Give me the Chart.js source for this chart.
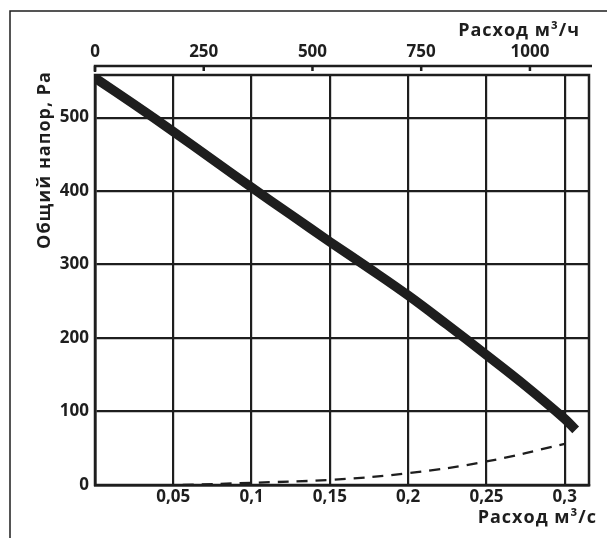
<!DOCTYPE html>
<html>
<head>
<meta charset="utf-8">
<script src="https://cdn.jsdelivr.net/npm/chart.js@4.4.1/dist/chart.umd.min.js"></script>
<style>
  html, body { margin: 0; padding: 0; background: #fff; }
  #wrap { width: 607px; height: 538px; position: relative; }
</style>
</head>
<body>
<div id="wrap"><canvas id="c"></canvas></div>
<script>
// ---- data ----
const flowFan   = [0, 0.025, 0.05, 0.075, 0.1, 0.125, 0.15, 0.175, 0.2, 0.225, 0.25, 0.275, 0.3, 0.307];
const pressFan  = [554, 518, 481, 443, 405, 368, 331, 295, 258, 218, 177, 135, 90, 75];
const flowSys   = [0.056, 0.1, 0.15, 0.2, 0.25, 0.3];
const pressSys  = [0, 3, 7, 16, 32, 56];
const xMax = 0.3155;          // m3/s
const yMax = 558;             // Pa
const topFactor = 3600;       // m3/s -> m3/h
const titleTop = 'Расход м³/ч';
const titleBottom = 'Расход м³/с';
const titleLeft = 'Общий напор, Ра';

const INK = '#1e1e1e';
const FONT = "'Open Sans', 'DejaVu Sans', sans-serif";

const toPts = (xs, ys) => xs.map((x, i) => ({ x: x, y: ys[i] }));

const decor = {
  id: 'decor',
  beforeDraw(chart) {
    const ctx = chart.ctx;
    ctx.save();
    ctx.strokeStyle = INK;
    ctx.lineWidth = 1.5;
    ctx.beginPath();
    ctx.moveTo(10, 538);
    ctx.lineTo(10, 11);
    ctx.lineTo(607, 11);
    ctx.stroke();
    ctx.restore();
  },
  beforeDatasetsDraw(chart) {
    const ctx = chart.ctx, a = chart.chartArea;
    ctx.save();
    ctx.strokeStyle = INK;
    ctx.lineWidth = 2.5;
    ctx.strokeRect(a.left, a.top, a.right - a.left, a.bottom - a.top);
    ctx.restore();
  },
  afterDraw(chart) {
    const ctx = chart.ctx, a = chart.chartArea;
    const s2 = chart.scales.x2;
    ctx.save();
    ctx.strokeStyle = INK;
    ctx.lineWidth = 2.5;
    const ly = a.top - 9;
    ctx.beginPath();
    ctx.moveTo(a.left, ly + 6);
    ctx.lineTo(a.left, ly);
    ctx.lineTo(a.right + 3, ly);
    ctx.stroke();
    s2.ticks.forEach(t => {
      const px = s2.getPixelForValue(t.value);
      ctx.beginPath();
      ctx.moveTo(px, ly);
      ctx.lineTo(px, ly + 5);
      ctx.stroke();
    });
    ctx.fillStyle = INK;
    ctx.font = 'bold 18px ' + FONT;
    try { ctx.letterSpacing = '1px'; } catch (e) {}
    ctx.textBaseline = 'middle';
    ctx.textAlign = 'right';
    ctx.fillText(titleTop, 580, 31);
    ctx.fillText(titleBottom, 597, 518);
    ctx.translate(45, 160);
    ctx.rotate(-Math.PI / 2);
    ctx.textAlign = 'center';
    ctx.fillText(titleLeft, 0, 0);
    ctx.restore();
  }
};

const fmtComma = v => {
  if (Math.abs(v) < 1e-9) return '';
  return String(Number(v.toFixed(3))).replace('.', ',');
};

new Chart(document.getElementById('c'), {
  type: 'line',
  data: {
    datasets: [
      {
        data: toPts(flowFan, pressFan),
        borderColor: INK,
        borderWidth: 9.5,
        pointRadius: 0,
        fill: false,
        tension: 0.4,
        borderCapStyle: 'butt',
        xAxisID: 'x', yAxisID: 'y'
      },
      {
        data: toPts(flowSys, pressSys),
        borderColor: INK,
        borderWidth: 2.3,
        borderDash: [11, 8],
        pointRadius: 0,
        fill: false,
        tension: 0.4,
        xAxisID: 'x', yAxisID: 'y'
      }
    ]
  },
  options: {
    responsive: true,
    maintainAspectRatio: false,
    animation: false,
    events: [],
    layout: { padding: { left: 0, right: 18, top: 0, bottom: 0 } },
    plugins: { legend: { display: false }, tooltip: { enabled: false } },
    scales: {
      x: {
        type: 'linear', position: 'bottom', min: 0, max: xMax,
        afterFit: s => { s.height = 53; },
        grid: { color: INK, lineWidth: 2.2, drawTicks: false },
        border: { display: true, color: INK, width: 2.5 },
        ticks: {
          stepSize: 0.05, includeBounds: false, padding: 2, maxRotation: 0, autoSkip: false,
          color: INK, font: { family: FONT, size: 17, weight: 'bold' },
          callback: v => fmtComma(v)
        }
      },
      x2: {
        type: 'linear', position: 'top', min: 0, max: xMax * topFactor,
        afterFit: s => { s.height = 75; },
        grid: { display: false, drawTicks: false },
        border: { display: false },
        ticks: {
          stepSize: 250, includeBounds: false, padding: 13, maxRotation: 0, autoSkip: false,
          color: INK, font: { family: FONT, size: 17, weight: 'bold' },
          callback: v => String(Math.round(v))
        }
      },
      y: {
        type: 'linear', position: 'left', min: 0, max: yMax,
        afterFit: s => { s.width = 95; },
        grid: { color: INK, lineWidth: 2.2, drawTicks: false },
        border: { display: true, color: INK, width: 2.5 },
        ticks: {
          stepSize: 100, includeBounds: false, padding: 6,
          color: INK, font: { family: FONT, size: 17, weight: 'bold' },
          callback: v => String(v)
        }
      }
    }
  },
  plugins: [decor]
});
</script>
</body>
</html>
